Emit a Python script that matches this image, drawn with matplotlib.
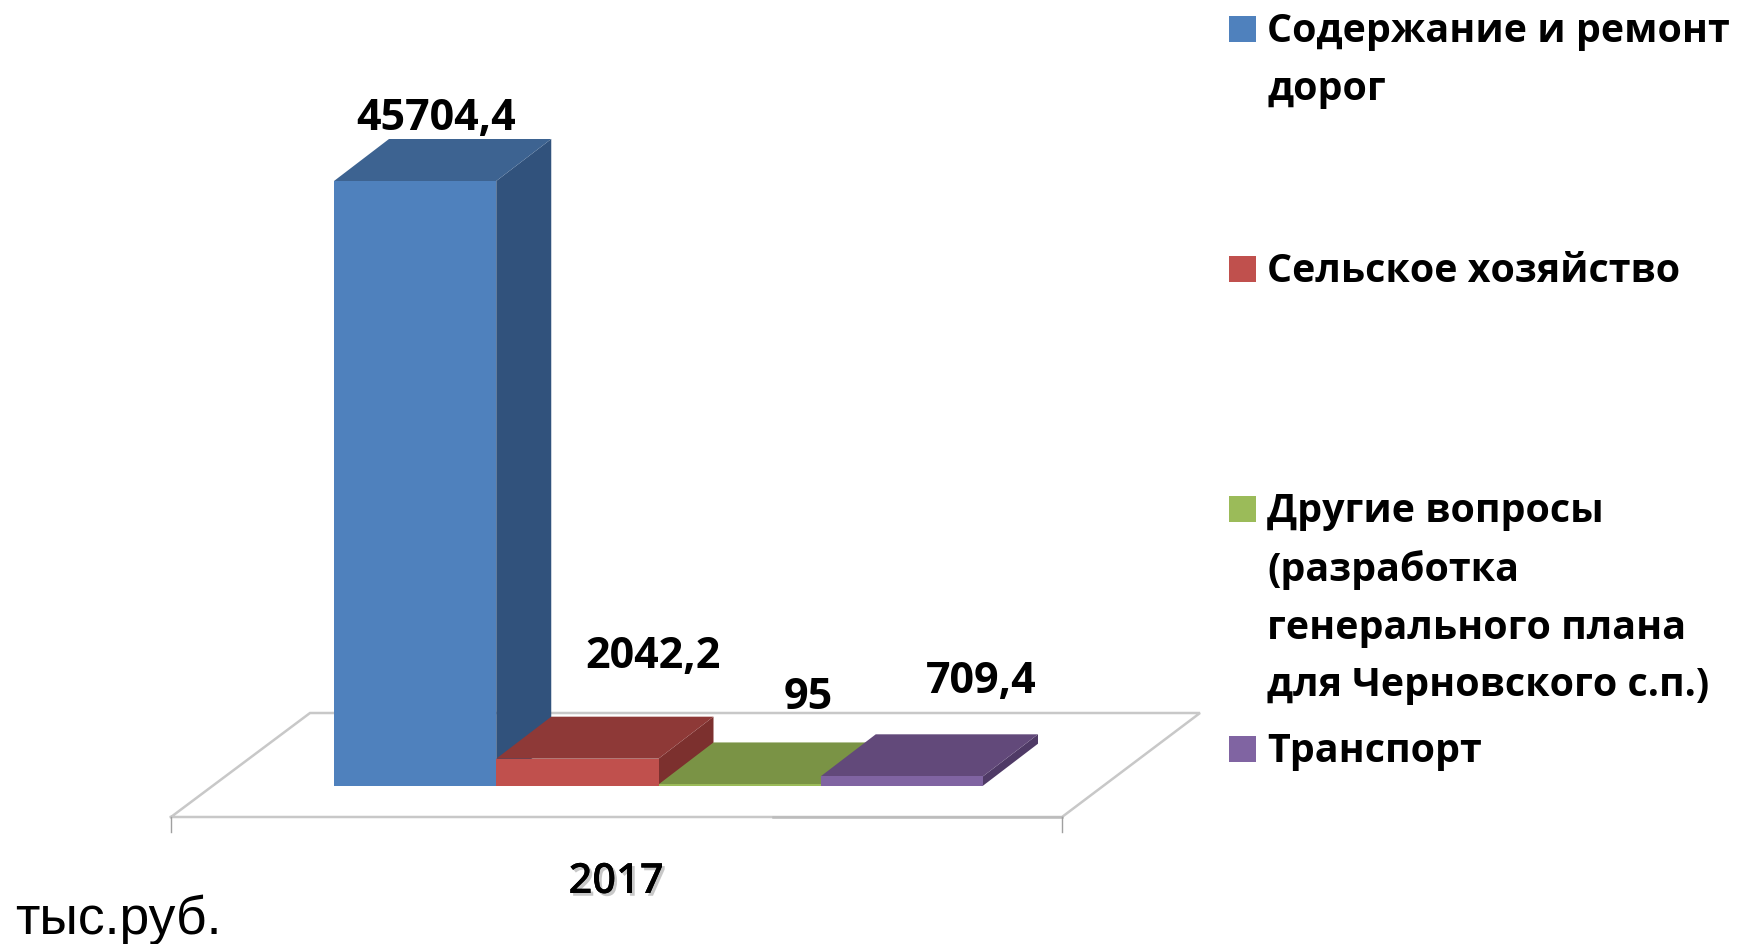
import matplotlib
matplotlib.use("Agg")
import matplotlib.pyplot as plt
import matplotlib.patheffects as pe
from matplotlib.patches import Polygon, Rectangle

categories = ["Содержание и ремонт\nдорог", "Сельское хозяйство",
              "Другие вопросы\n(разработка\nгенерального плана\nдля Черновского с.п.)", "Транспорт"]
values = [45704.4, 2042.2, 95, 709.4]
value_labels = ["45704,4", "2042,2", "95", "709,4"]
year_label = "2017"
unit_label = "тыс.руб."

front_colors = ["#4F81BD", "#C0504D", "#9BBB59", "#8064A2"]
top_colors = ["#3D6391", "#8E3937", "#7A9345", "#62497A"]
side_colors = ["#31527C", "#7C302E", "#657A39", "#4F3A66"]

W, H = 1738, 944
fig = plt.figure(figsize=(W / 100, H / 100), dpi=100, facecolor="white")
X0, X1, Y0, Y1 = 334, 983, 785.7, 181
ax = fig.add_axes([X0 / W, (H - Y0) / H, (X1 - X0) / W, (Y0 - Y1) / H])
ax.set_xlim(0, 4)
ax.set_ylim(0, values[0])
ax.axis("off")

px_x = 4 / (X1 - X0)
px_y = values[0] / (Y0 - Y1)
dx, dy = 55 * px_x, 42 * px_y


def to_data(px, py):
    return ((px - X0) * px_x, (Y0 - py) * px_y)


# floor
floor = [to_data(*p) for p in [(171, 817), (1062, 817), (1200, 713), (310, 713), (171, 817)]]
ax.plot(*zip(*floor), color="#C8C8C8", lw=1.8, clip_on=False, zorder=1, solid_joinstyle="miter")
ax.plot(*zip(to_data(773, 817), to_data(1062, 817)), color="#BCBCBC", lw=1.8, clip_on=False, zorder=1)
for px in (171, 1062):
    ax.plot(*zip(to_data(px, 817), to_data(px, 832)), color="#A0A0A0", lw=1, clip_on=False, zorder=1)

# bars
for i, v in enumerate(values):
    l, r = i, i + 1
    z = 2 + i
    ax.add_patch(Polygon([(r, 0), (r + dx, dy), (r + dx, v + dy), (r, v)], fc=side_colors[i], ec="none", zorder=z, clip_on=False))
    ax.add_patch(Polygon([(l, v), (r, v), (r + dx, v + dy), (l + dx, v + dy)], fc=top_colors[i], ec="none", zorder=z, clip_on=False))
    ax.add_patch(Rectangle((l, 0), 1, v, fc=front_colors[i], ec="none", zorder=z, clip_on=False))

# data labels
label_font = dict(family="Open Sans", fontweight="bold", color="black", fontsize=31)
label_offsets = [(21, 63), (76, 102), (69, 87), (79, 95)]
for i, (v, t) in enumerate(zip(values, value_labels)):
    ax.annotate(t, xy=(i + 0.5, v), xytext=label_offsets[i], textcoords="offset pixels",
                ha="center", va="center", zorder=10, annotation_clip=False, **label_font)

# category label
fig.text(616 / W, 1 - 882 / H, year_label, ha="center", va="center",
         family="Open Sans", fontweight="semibold", color="black", fontsize=30,
         path_effects=[pe.withSimplePatchShadow(offset=(2, -2), shadow_rgbFace="#777777", alpha=0.4), pe.Normal()])

# unit
fig.text(15 / W, 1 - 920 / H, unit_label, family="Liberation Sans", fontsize=38.5, color="black", ha="left", va="center")

# legend
step = 240
for i, (name, c) in enumerate(zip(categories, front_colors)):
    yc = 29 + step * i
    fig.add_artist(Rectangle((1229 / W, 1 - (yc + 13) / H), 27 / W, 26 / H, fc=c, ec="none", transform=fig.transFigure))
    fig.text(1267 / W, 1 - (yc - 17) / H, name, family="Open Sans", fontweight="bold", fontsize=28.4,
             color="black", ha="left", va="top", linespacing=1.62)

fig.savefig("out.png", dpi=100, facecolor="white")
